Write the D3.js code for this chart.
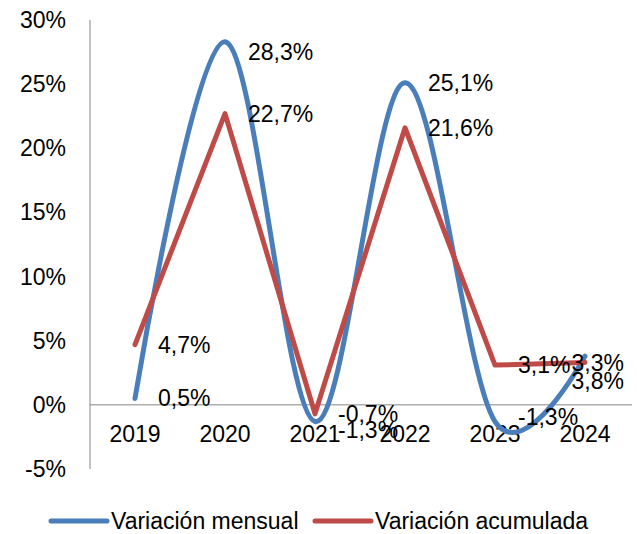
<!DOCTYPE html>
<html>
<head>
<meta charset="utf-8">
<script src="https://cdn.jsdelivr.net/npm/d3@7"></script>
<style>
  body { margin: 0; background: #fff; }
  svg { display: block; font-family: "Liberation Sans", Arial, sans-serif; }
</style>
</head>
<body>
<svg id="chart" width="637" height="534"></svg>
<script>
const years = ["2019", "2020", "2021", "2022", "2023", "2024"];
const mensual = [0.5, 28.3, -1.3, 25.1, -1.3, 3.8];
const acumulada = [4.7, 22.7, -0.7, 21.6, 3.1, 3.3];
const yTicks = [-5, 0, 5, 10, 15, 20, 25, 30];
const seriesNames = ["Variación mensual", "Variación acumulada"];

// Spanish decimal comma, plain hyphen for negatives
const fmt = v => v.toFixed(1).replace(".", ",") + "%";

const svg = d3.select("#chart");
const plotLeft = 90, plotRight = 630, plotTop = 20, plotBottom = 469;

const x = d3.scaleBand().domain(years).range([plotLeft, plotRight]);
const y = d3.scaleLinear().domain([-5, 30]).range([plotBottom, plotTop]);
const cx = d => x(d) + x.bandwidth() / 2;

// axes
svg.append("line")
    .attr("x1", plotLeft).attr("x2", plotLeft)
    .attr("y1", plotTop).attr("y2", plotBottom)
    .attr("stroke", "#868686").attr("stroke-width", 1);
svg.append("line")
    .attr("x1", plotLeft).attr("x2", plotRight + 2)
    .attr("y1", y(0)).attr("y2", y(0))
    .attr("stroke", "#868686").attr("stroke-width", 1);

svg.selectAll(".ytick")
    .data(yTicks)
    .enter().append("text")
    .attr("x", 66)
    .attr("y", d => y(d))
    .attr("dy", "0.35em")
    .attr("text-anchor", "end")
    .attr("font-size", "23px")
    .text(d => d + "%");

svg.selectAll(".xtick")
    .data(years)
    .enter().append("text")
    .attr("x", d => cx(d))
    .attr("y", 434)
    .attr("dy", "0.35em")
    .attr("text-anchor", "middle")
    .attr("font-size", "23px")
    .text(d => d);

const series = [
    { name: seriesNames[0], values: mensual, color: "#4A7EBB", curve: d3.curveCardinal.tension(0),
      nudge: [0, 10, 8, 0, -5, 25] },
    { name: seriesNames[1], values: acumulada, color: "#BE4B48", curve: d3.curveLinear,
      nudge: [0, 0, 0, 0, 0, 0] }
];

series.forEach(s => {
    const line = d3.line()
        .x((d, i) => cx(years[i]))
        .y(d => y(d))
        .curve(s.curve);
    svg.append("path")
        .datum(s.values)
        .attr("d", line)
        .attr("fill", "none")
        .attr("stroke", s.color)
        .attr("stroke-width", 5)
        .attr("stroke-linecap", "round")
        .attr("stroke-linejoin", "round");
});

// data labels, kept inside the chart on the right
series.forEach(s => {
    s.values.forEach((v, i) => {
        const t = svg.append("text")
            .attr("font-size", "23px")
            .attr("fill", "#000")
            .attr("y", y(v) + s.nudge[i])
            .attr("dy", "0.35em")
            .text(fmt(v));
        const w = t.node().getComputedTextLength();
        t.attr("x", Math.min(cx(years[i]) + 23, 624 - w));
    });
});

// legend
const legend = svg.append("g");
const items = [
    { name: seriesNames[0], color: "#4A7EBB", x: 51 },
    { name: seriesNames[1], color: "#BE4B48", x: 315 }
];
items.forEach(it => {
    legend.append("line")
        .attr("x1", it.x).attr("x2", it.x + 56)
        .attr("y1", 521).attr("y2", 521)
        .attr("stroke", it.color)
        .attr("stroke-width", 5)
        .attr("stroke-linecap", "round");
    legend.append("text")
        .attr("x", it.x + 60)
        .attr("y", 521)
        .attr("dy", "0.35em")
        .attr("font-size", "23px")
        .text(it.name);
});
</script>
</body>
</html>
